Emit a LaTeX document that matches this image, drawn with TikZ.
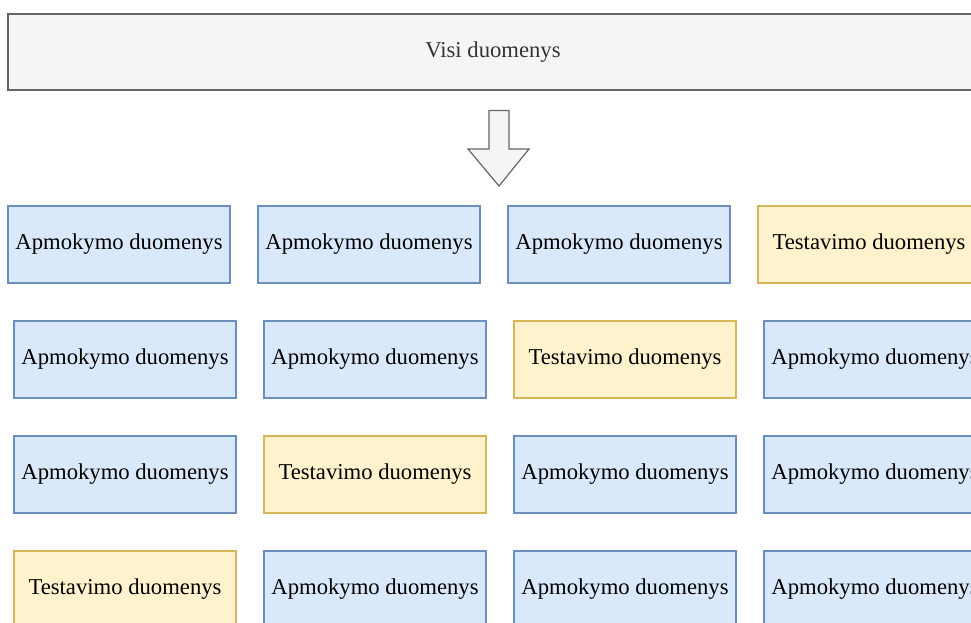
\documentclass[tikz,border=0pt]{standalone}
\usepackage{fontspec}
\setmainfont{Liberation Serif}
\definecolor{trainfill}{HTML}{DAE8FC}
\definecolor{traindraw}{HTML}{6C8EBF}
\definecolor{testfill}{HTML}{FFF2CC}
\definecolor{testdraw}{HTML}{D6B656}
\definecolor{allfill}{HTML}{F5F5F5}
\definecolor{alldraw}{HTML}{666666}
\definecolor{alltext}{HTML}{333333}
\tikzset{
  databox/.style={draw,line width=0.9pt,minimum width=166.5pt,minimum height=57.75pt,inner sep=0pt,font=\fontsize{17}{20}\selectfont},
  train/.style={databox,fill=trainfill,draw=traindraw},
  test/.style={databox,fill=testfill,draw=testdraw},
}
\begin{document}
\begin{tikzpicture}[x=0.75pt,y=-0.75pt]
\useasboundingbox (0,0) rectangle (971,622);
\clip (0,0) rectangle (971,622);
%\draw[step=50,gray,very thin] (0,0) grid (971,622);
\node[databox,fill=allfill,draw=alldraw,text=alltext,minimum width=727.5pt,minimum height=57pt] (all) at (493,52) {Visi duomenys};
\draw[fill=allfill,draw=alldraw,line width=0.9pt] (489,110.5)--(509,110.5)--(509,149)--(529,149)--(499,186)--(468,149)--(489,149)--cycle;
% 1
\node[train] (a1) at (119,244.5) {Apmokymo duomenys};
\node[train] (a2) at (369,244.5) {Apmokymo duomenys};
\node[train] (a3) at (619,244.5) {Apmokymo duomenys};
\node[test]  (a4) at (869,244.5) {Testavimo duomenys};
% 2
\node[train] (b1) at (125,359.5) {Apmokymo duomenys};
\node[train] (b2) at (375,359.5) {Apmokymo duomenys};
\node[test]  (b3) at (625,359.5) {Testavimo duomenys};
\node[train] (b4) at (875,359.5) {Apmokymo duomenys};
% 3
\node[train] (c1) at (125,474.5) {Apmokymo duomenys};
\node[test]  (c2) at (375,474.5) {Testavimo duomenys};
\node[train] (c3) at (625,474.5) {Apmokymo duomenys};
\node[train] (c4) at (875,474.5) {Apmokymo duomenys};
% 4
\node[test]  (d1) at (125,589.5) {Testavimo duomenys};
\node[train] (d2) at (375,589.5) {Apmokymo duomenys};
\node[train] (d3) at (625,589.5) {Apmokymo duomenys};
\node[train] (d4) at (875,589.5) {Apmokymo duomenys};
\end{tikzpicture}
\end{document}
